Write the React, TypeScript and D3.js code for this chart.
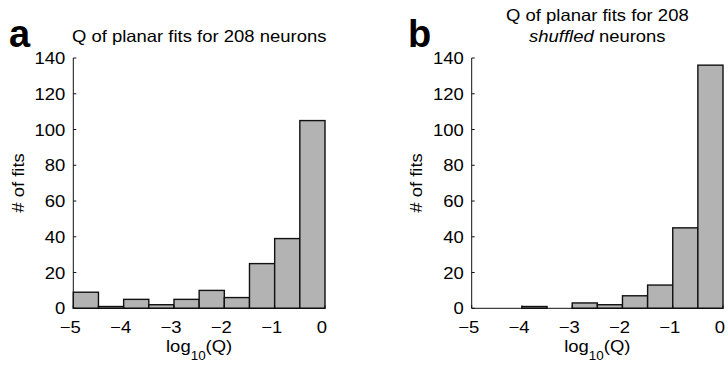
import React from "react";
import * as d3 from "d3";

const binLefts = [-5, -4.5, -4, -3.5, -3, -2.5, -2, -1.5, -1, -0.5];
const binWidth = 0.5;
const countsA = [9, 1, 5, 2, 5, 10, 6, 25, 39, 105];
const countsB = [0, 0, 1, 0, 3, 2, 7, 13, 45, 136];
const xTicks = [-5, -4, -3, -2, -1, 0];
const yTicks = [0, 20, 40, 60, 80, 100, 120, 140];

const FONT = "'Liberation Sans', Arial, Helvetica, sans-serif";
const FS = 16.5;
const SX = 1.12;

function T({ x, y, anchor = "start", size = FS, rotate = 0, children, weight, style }: any) {
  const tr = `translate(${x},${y})${rotate ? ` rotate(${rotate})` : ""} scale(${SX},1)`;
  return (
    <text transform={tr} textAnchor={anchor} fontSize={size} fontFamily={FONT} fontWeight={weight} fill="#000" style={style}>
      {children}
    </text>
  );
}

const fmt = (v: number) => (v < 0 ? "\u2212" + Math.abs(v) : String(v));

function Panel({ counts, left, right, letter, letterX, titleLines, ylabelX }: any) {
  const y0 = 308.3;
  const yTop = 58;
  const x = d3.scaleLinear().domain([-5, 0]).range([left, right]);
  const y = d3.scaleLinear().domain([0, 140]).range([y0, yTop]);
  const cx = (left + right) / 2;
  return (
    <g>
      {counts.map((c: number, i: number) => (
        <rect
          key={i}
          x={x(binLefts[i])}
          y={y(c)}
          width={x(binLefts[i] + binWidth) - x(binLefts[i])}
          height={y(0) - y(c)}
          fill="#b3b3b3"
          stroke="#111"
          strokeWidth={1.4}
        />
      ))}
      <line x1={left} x2={left} y1={yTop} y2={y0} stroke="#111" strokeWidth={1} />
      <line x1={left} x2={right} y1={y0} y2={y0} stroke="#111" strokeWidth={1} />
      {yTicks.map((t) => (
        <g key={"y" + t}>
          <line x1={left} x2={left + 3} y1={y(t)} y2={y(t)} stroke="#111" strokeWidth={1} />
          <T x={left - 8} y={y(t) + 6} anchor="end">{fmt(t)}</T>
        </g>
      ))}
      {xTicks.map((t) => (
        <g key={"x" + t}>
          <line x1={x(t)} x2={x(t)} y1={y0} y2={y0 - 3} stroke="#111" strokeWidth={1} />
          <T x={x(t) - 3} y={333} anchor="middle">{fmt(t)}</T>
        </g>
      ))}
      <text transform={`translate(${cx},352) scale(${SX},1)`} textAnchor="middle" fontSize={FS} fontFamily={FONT}>
        log<tspan fontSize={12} dy={8}>10</tspan><tspan dy={-8}>(Q)</tspan>
      </text>
      <T x={ylabelX} y={183} anchor="middle" rotate={-90}># of fits</T>
      <text x={letterX} y={47} fontSize={38} fontWeight="bold" fontFamily={FONT}>{letter}</text>
      {titleLines.map((ln: any, i: number) => (
        <text key={i} transform={`translate(${cx},${ln.y}) scale(${SX},1)`} textAnchor="middle" fontSize={FS} fontFamily={FONT}>
          {ln.parts.map((p: any, j: number) => (
            <tspan key={j} fontStyle={p.italic ? "italic" : "normal"}>{p.t}</tspan>
          ))}
        </text>
      ))}
    </g>
  );
}

export default function App() {
  return (
    <svg width={728} height={366} style={{ position: "absolute", left: 0, top: 0, background: "#fff" }}>
      <rect width={728} height={366} fill="#fff" />
      <Panel
        counts={countsA}
        left={73.3}
        right={325}
        letter="a"
        letterX={9}
        ylabelX={24}
        titleLines={[{ y: 42, parts: [{ t: "Q of planar fits for 208 neurons" }] }]}
      />
      <Panel
        counts={countsB}
        left={471.7}
        right={723}
        letter="b"
        letterX={408}
        ylabelX={422}
        titleLines={[
          { y: 21, parts: [{ t: "Q of planar fits for 208" }] },
          { y: 42, parts: [{ t: "shuffled", italic: true }, { t: " neurons" }] },
        ]}
      />
    </svg>
  );
}
